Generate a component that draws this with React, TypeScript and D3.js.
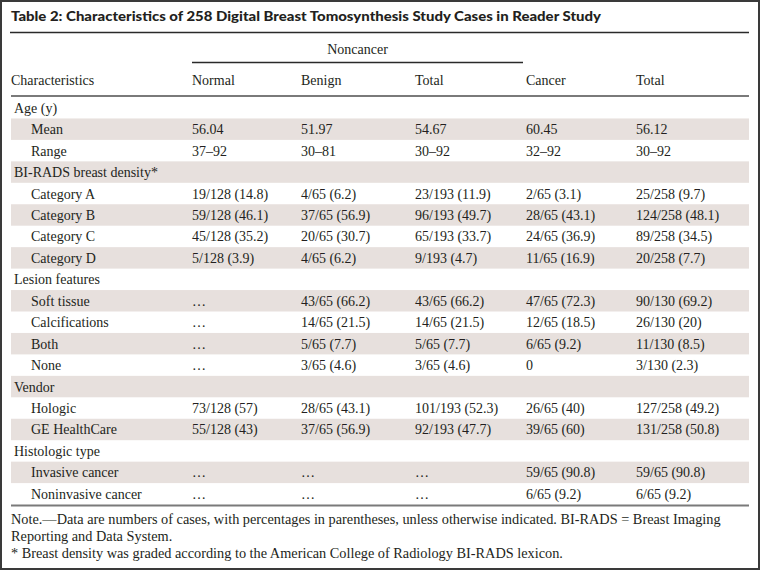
import React from "react";
import * as d3 from "d3";

const title = "Table 2: Characteristics of 258 Digital Breast Tomosynthesis Study Cases in Reader Study";
const groupHeader = "Noncancer";
const columnHeaders = ["Characteristics", "Normal", "Benign", "Total", "Cancer", "Total"];

const characteristics = [
  "Age (y)", "Mean", "Range",
  "BI-RADS breast density*", "Category A", "Category B", "Category C", "Category D",
  "Lesion features", "Soft tissue", "Calcifications", "Both", "None",
  "Vendor", "Hologic", "GE HealthCare",
  "Histologic type", "Invasive cancer", "Noninvasive cancer",
];
const sectionRows = ["Age (y)", "BI-RADS breast density*", "Lesion features", "Vendor", "Histologic type"];

const normalValues = ["", "56.04", "37–92", "", "19/128 (14.8)", "59/128 (46.1)", "45/128 (35.2)", "5/128 (3.9)", "", "…", "…", "…", "…", "", "73/128 (57)", "55/128 (43)", "", "…", "…"];
const benignValues = ["", "51.97", "30–81", "", "4/65 (6.2)", "37/65 (56.9)", "20/65 (30.7)", "4/65 (6.2)", "", "43/65 (66.2)", "14/65 (21.5)", "5/65 (7.7)", "3/65 (4.6)", "", "28/65 (43.1)", "37/65 (56.9)", "", "…", "…"];
const noncancerTotalValues = ["", "54.67", "30–92", "", "23/193 (11.9)", "96/193 (49.7)", "65/193 (33.7)", "9/193 (4.7)", "", "43/65 (66.2)", "14/65 (21.5)", "5/65 (7.7)", "3/65 (4.6)", "", "101/193 (52.3)", "92/193 (47.7)", "", "…", "…"];
const cancerValues = ["", "60.45", "32–92", "", "2/65 (3.1)", "28/65 (43.1)", "24/65 (36.9)", "11/65 (16.9)", "", "47/65 (72.3)", "12/65 (18.5)", "6/65 (9.2)", "0", "", "26/65 (40)", "39/65 (60)", "", "59/65 (90.8)", "6/65 (9.2)"];
const overallTotalValues = ["", "56.12", "30–92", "", "25/258 (9.7)", "124/258 (48.1)", "89/258 (34.5)", "20/258 (7.7)", "", "90/130 (69.2)", "26/130 (20)", "11/130 (8.5)", "3/130 (2.3)", "", "127/258 (49.2)", "131/258 (50.8)", "", "59/65 (90.8)", "6/65 (9.2)"];

const noteLines = [
  "Note.—Data are numbers of cases, with percentages in parentheses, unless otherwise indicated. BI-RADS = Breast Imaging",
  "Reporting and Data System.",
  "* Breast density was graded according to the American College of Radiology BI-RADS lexicon.",
];

const W = 760;
const H = 570;
const SERIF = "'Liberation Serif', 'DejaVu Serif', serif";
const SANS = "Lato, 'Noto Sans', sans-serif";
const TEXT = "#231f20";
const SHADE = "#e7e0dd";

export default function App() {
  const valueColumns = [normalValues, benignValues, noncancerTotalValues, cancerValues, overallTotalValues];
  const colKeys = d3.range(columnHeaders.length).map(String);
  const colX = d3.scaleOrdinal<string, number>().domain(colKeys).range([11, 192, 301, 415, 526, 636]);

  const rowY = d3.scaleBand<string>()
    .domain(characteristics.map((_, i) => String(i)))
    .range([97, 97 + 21.45 * characteristics.length])
    .paddingInner(0)
    .paddingOuter(0);

  const left = 11;
  const right = 749;
  const tableBottom = 97 + 21.45 * characteristics.length;

  return (
    <svg width={W} height={H} style={{ position: "absolute", left: 0, top: 0, display: "block", background: "#fff" }}>
      <rect x={1} y={1} width={W - 2} height={H - 2} fill="#fff" stroke="#3a3a3a" strokeWidth={2} />
      <text x={11} y={21} fontFamily={SANS} fontWeight={900} fontSize={13.6} fill={TEXT}
        textLength={590} lengthAdjust="spacingAndGlyphs">{title}</text>
      <line x1={10} x2={right} y1={32.5} y2={32.5} stroke="#2a2a2a" strokeWidth={1.5} />

      <text x={(192 + 523) / 2} y={54} textAnchor="middle" fontFamily={SERIF} fontSize={14} fill={TEXT}>{groupHeader}</text>
      <line x1={192} x2={523} y1={62.5} y2={62.5} stroke="#2a2a2a" strokeWidth={1.3} />

      {columnHeaders.map((h, i) => (
        <text key={"h" + i} x={colX(String(i))} y={85} fontFamily={SERIF} fontSize={14} fill={TEXT}>{h}</text>
      ))}
      <line x1={left} x2={right} y1={96} y2={96} stroke="#7a7a7a" strokeWidth={2} />

      {characteristics.map((c, i) => {
        const y0 = rowY(String(i)) as number;
        const bh = rowY.bandwidth();
        const isSection = sectionRows.includes(c);
        return (
          <g key={"r" + i}>
            {i % 2 === 1 && <rect x={left} y={y0} width={right - left} height={bh} fill={SHADE} />}
            <text x={isSection ? 14 : 31} y={y0 + bh / 2 + 5} fontFamily={SERIF} fontSize={14} fill={TEXT}>{c}</text>
            {valueColumns.map((vals, j) => (
              <text key={j} x={colX(String(j + 1))} y={y0 + bh / 2 + 5} fontFamily={SERIF} fontSize={14} fill={TEXT}>{vals[i]}</text>
            ))}
          </g>
        );
      })}
      <line x1={left} x2={right} y1={tableBottom + 1} y2={tableBottom + 1} stroke="#7a7a7a" strokeWidth={2} />

      {noteLines.map((l, i) => (
        <text key={"n" + i} x={11} y={524 + i * 17} fontFamily={SERIF} fontSize={14.3} fill={TEXT}>{l}</text>
      ))}
    </svg>
  );
}
